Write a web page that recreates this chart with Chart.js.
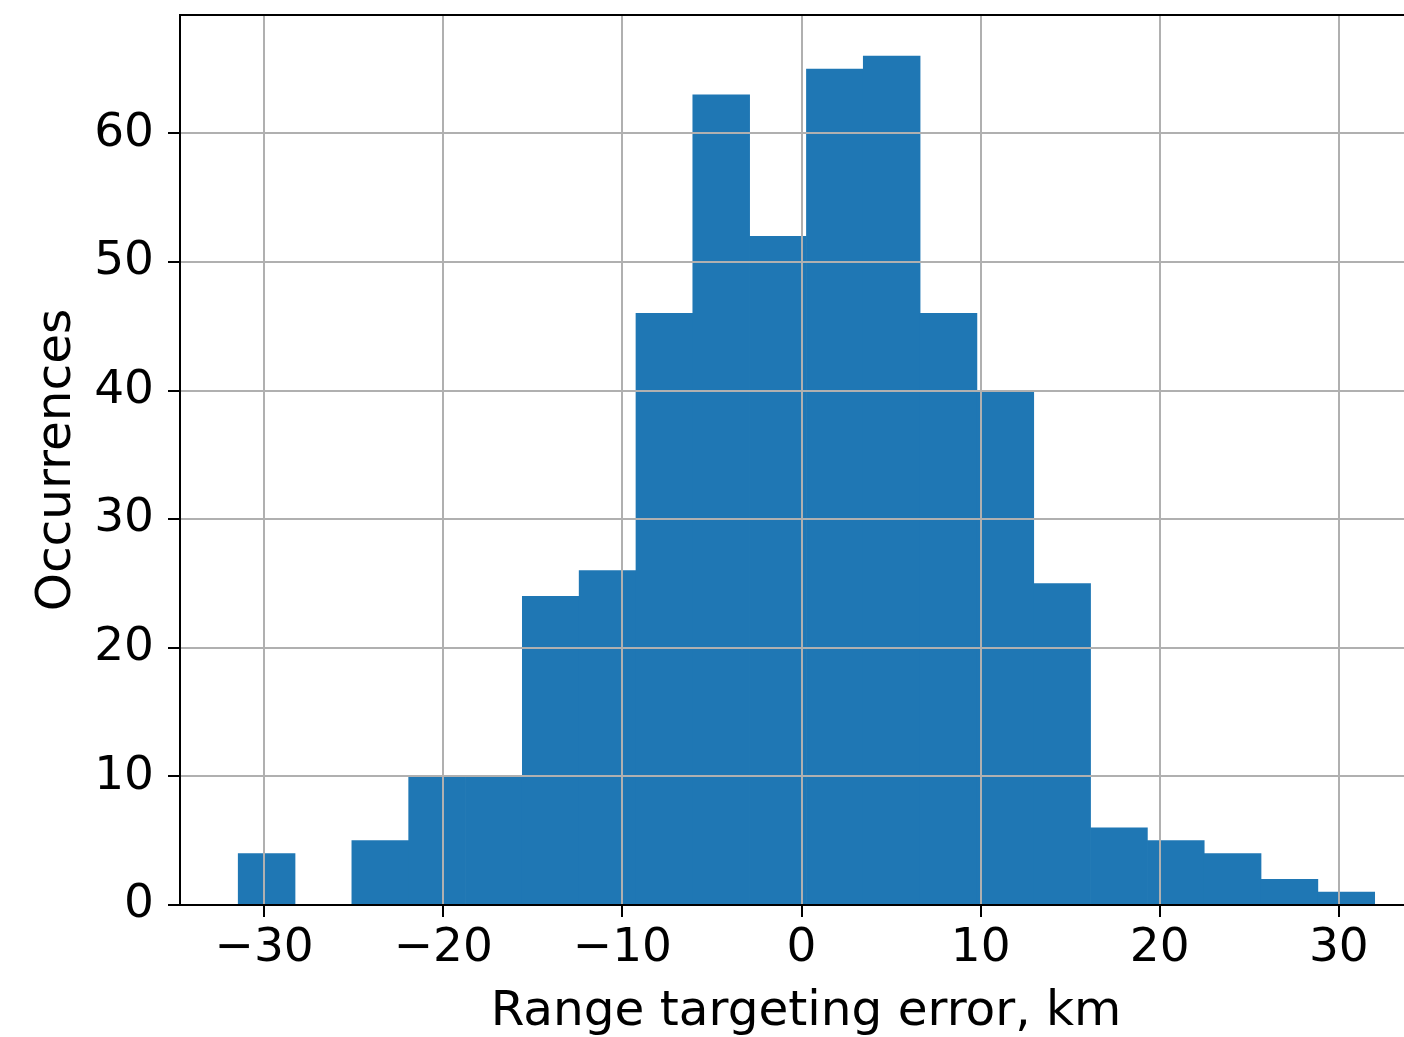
<!DOCTYPE html>
<html>
<head>
<meta charset="utf-8">
<script src="https://cdn.jsdelivr.net/npm/chart.js@4/dist/chart.umd.min.js"></script>
<style>
html,body{margin:0;padding:0;background:#fff;overflow:hidden;}
canvas{display:block;}
</style>
</head>
<body>
<canvas id="c" width="1440" height="1037"></canvas>
<script>
// Histogram bins (edges from about -31.45 to 32.0, 20 bins)
const binStart = -31.45;
const binEnd = 32.0;
const counts = [4, 0, 5, 10, 10, 24, 26, 46, 63, 52, 65, 66, 46, 40, 25, 6, 5, 4, 2, 1];
const xTicks = [-30, -20, -10, 0, 10, 20, 30];
const yTicks = [0, 10, 20, 30, 40, 50, 60];
const xLabel = 'Range targeting error, km';
const yLabel = 'Occurrences';

const binWidth = (binEnd - binStart) / counts.length;
const points = counts.map((c, i) => ({ x: binStart + binWidth * (i + 0.5), y: c }));

const FONT = 'DejaVu Sans';
Chart.defaults.color = '#000';
Chart.defaults.font.family = FONT;

const frame = {
  id: 'frame',
  afterDraw(chart) {
    const a = chart.chartArea, ctx = chart.ctx;
    ctx.save();
    ctx.strokeStyle = '#000';
    ctx.lineWidth = 2;
    ctx.strokeRect(a.left, a.top, a.right - a.left, a.bottom - a.top);
    ctx.restore();
  }
};

new Chart(document.getElementById('c'), {
  type: 'bar',
  data: {
    datasets: [{
      data: points,
      backgroundColor: '#1f77b4',
      borderWidth: 0,
      barPercentage: 1.0,
      categoryPercentage: 1.0
    }]
  },
  options: {
    responsive: false,
    animation: false,
    layout: { padding: { top: 15, right: 8, left: 0, bottom: 0 } },
    plugins: { legend: { display: false }, tooltip: { enabled: false } },
    scales: {
      x: {
        type: 'linear',
        min: -34.7,
        max: 35.2,
        offset: false,
        z: 1,
        afterFit(s) { s.height = 132; s.paddingLeft = 0; s.paddingRight = 0; },
        afterBuildTicks(s) { s.ticks = xTicks.map(v => ({ value: v })); },
        grid: { z: 1, offset: false, color: '#b0b0b0', lineWidth: 2, tickColor: '#000', tickLength: 12, drawTicks: true },
        border: { z: 2, color: '#000', width: 2 },
        ticks: {
          font: { size: 47 },
          padding: 4,
          maxRotation: 0,
          autoSkip: false,
          callback: v => String(v).replace('-', '\u2212')
        },
        title: { display: true, text: xLabel, font: { size: 48.5 }, padding: { top: 0, bottom: -5 } }
      },
      y: {
        type: 'linear',
        min: 0,
        max: 69.2,
        z: 1,
        afterFit(s) { s.width = 180; s.paddingTop = 0; s.paddingBottom = 0; },
        afterBuildTicks(s) { s.ticks = yTicks.map(v => ({ value: v })); },
        grid: { z: 1, color: '#b0b0b0', lineWidth: 2, tickColor: '#000', tickLength: 12, drawTicks: true },
        border: { z: 2, color: '#000', width: 2 },
        ticks: { font: { size: 47 }, padding: 14, autoSkip: false },
        title: { display: true, text: yLabel, font: { size: 48.5 }, padding: { top: 28, bottom: 0 } }
      }
    }
  },
  plugins: [frame]
});
</script>
</body>
</html>
